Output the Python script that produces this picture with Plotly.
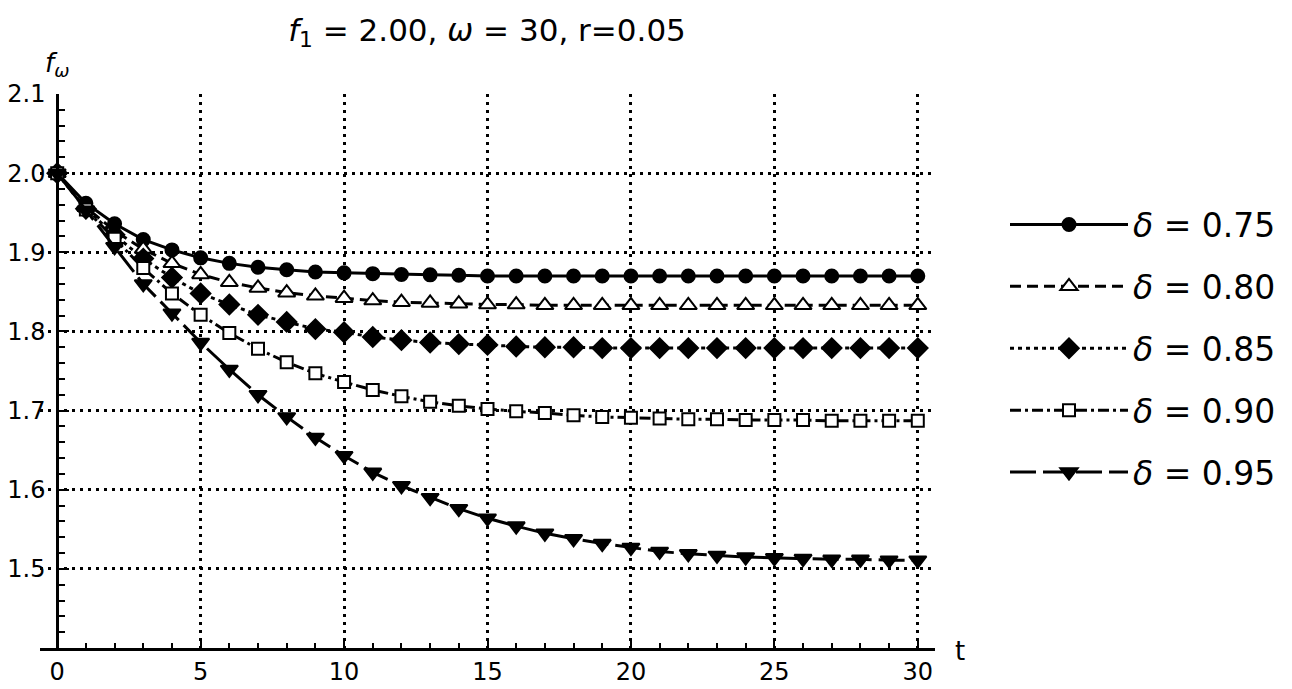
import plotly.graph_objects as go

t = list(range(31))

deltas = ["0.75", "0.80", "0.85", "0.90", "0.95"]

f_075 = [2.000, 1.962, 1.936, 1.916, 1.903, 1.893, 1.886, 1.881, 1.878, 1.875,
         1.874, 1.873, 1.872, 1.8715, 1.871, 1.870, 1.870, 1.870, 1.870, 1.870,
         1.870, 1.870, 1.870, 1.870, 1.870, 1.870, 1.870, 1.870, 1.870, 1.870, 1.870]
f_080 = [2.000, 1.957, 1.927, 1.904, 1.886, 1.872, 1.862, 1.855, 1.849, 1.845,
         1.842, 1.839, 1.837, 1.836, 1.835, 1.834, 1.834, 1.833, 1.833, 1.833,
         1.833, 1.833, 1.833, 1.833, 1.833, 1.833, 1.833, 1.833, 1.833, 1.833, 1.833]
f_085 = [2.000, 1.955, 1.922, 1.892, 1.868, 1.848, 1.834, 1.821, 1.812, 1.803,
         1.799, 1.793, 1.789, 1.786, 1.784, 1.783, 1.781, 1.780, 1.780, 1.779,
         1.779, 1.779, 1.779, 1.779, 1.779, 1.779, 1.779, 1.779, 1.779, 1.779, 1.779]
f_090 = [2.000, 1.954, 1.917, 1.880, 1.848, 1.821, 1.798, 1.778, 1.761, 1.747,
         1.736, 1.726, 1.718, 1.711, 1.706, 1.702, 1.699, 1.697, 1.694, 1.692,
         1.691, 1.690, 1.689, 1.689, 1.688, 1.688, 1.688, 1.687, 1.687, 1.687, 1.687]
f_095 = [2.000, 1.953, 1.907, 1.860, 1.823, 1.786, 1.752, 1.720, 1.692, 1.666,
         1.643, 1.622, 1.605, 1.590, 1.576, 1.564, 1.554, 1.545, 1.538, 1.532,
         1.527, 1.522, 1.519, 1.517, 1.515, 1.514, 1.513, 1.512, 1.512, 1.511, 1.511]

series = [f_075, f_080, f_085, f_090, f_095]

x_ticks = [0, 5, 10, 15, 20, 25, 30]
x_grid = [5, 10, 15, 20, 25, 30]
y_ticks = [1.5, 1.6, 1.7, 1.8, 1.9, 2.0, 2.1]
y_grid = [1.5, 1.6, 1.7, 1.8, 1.9, 2.0]

styles = [
    dict(dash="solid", symbol="circle", color="black", size=13),
    dict(dash="11px,6px", symbol="triangle-up", color="white", size=15),
    dict(dash="4px,4px", symbol="diamond", color="black", size=15),
    dict(dash="11px,4px,3px,4px", symbol="square", color="white", size=12),
    dict(dash="26px,7px", symbol="triangle-down", color="black", size=15),
]

FONT = "DejaVu Sans"
W, H = 1284, 681
L, R, T, B = 32, 357, 86, 41
PW = W - L - R
PH = H - T - B


def px_x(px):
    return (px - L) / PW


def px_y(py):
    return 1 - (py - T) / PH


fig = go.Figure()

for i, (d, ys, st) in enumerate(zip(deltas, series, styles)):
    fig.add_trace(go.Scatter(
        x=t, y=ys, mode="lines+markers",
        name=f"<i>δ</i> = {d}",
        legendgroup=f"g{i}",
        line=dict(color="black", width=3, dash=st["dash"]),
        marker=dict(symbol=st["symbol"], size=st["size"], color=st["color"],
                    line=dict(color="black", width=2)),
    ))

# invisible trace for grid axes
fig.add_trace(go.Scatter(x=[0], y=[2.0], xaxis="x2", yaxis="y2",
                         mode="markers", marker=dict(opacity=0),
                         showlegend=False, hoverinfo="skip"))

xr = [-0.6, 30.6]
yr = [1.4, 2.1]
ypos = (0 - xr[0]) / (xr[1] - xr[0])

fig.update_layout(
    width=W, height=H,
    margin=dict(l=L, r=R, t=T, b=B, autoexpand=False),
    paper_bgcolor="white", plot_bgcolor="white",
    font=dict(family=FONT, size=24, color="black"),
    title=dict(text="<i>f</i><sub>1</sub> = 2.00, <i>ω</i> = 30, r=0.05",
               x=479 / W, xanchor="center",
               y=1 - 22 / H, yanchor="middle",
               font=dict(family=FONT, size=31, color="black")),
    showlegend=True,
    legend=dict(x=px_x(997), y=px_y(188.5), xanchor="left", yanchor="top",
                font=dict(family=FONT, size=33, color="black"),
                itemwidth=118, tracegroupgap=16, bgcolor="rgba(0,0,0,0)"),
    xaxis=dict(range=xr, tickvals=x_ticks, ticktext=[str(v) for v in x_ticks],
               showgrid=False, zeroline=False, showline=True, linecolor="black",
               linewidth=3, ticks="inside", ticklen=10, tickwidth=2,
               tickcolor="black", tickfont=dict(family=FONT, size=24),
               automargin=False,
               minor=dict(dtick=1, ticks="inside", ticklen=5, tickwidth=2,
                          tickcolor="black", showgrid=False),
               anchor="y"),
    yaxis=dict(range=yr, tickvals=y_ticks, ticktext=["%.1f" % v for v in y_ticks],
               showgrid=False, zeroline=False, showline=True, linecolor="black",
               linewidth=3, ticks="inside", ticklen=10, tickwidth=2,
               tickcolor="black", tickfont=dict(family=FONT, size=24),
               ticklabelstandoff=6, automargin=False,
               minor=dict(dtick=0.02, tick0=1.4, ticks="inside", ticklen=6, tickwidth=2,
                          tickcolor="black", showgrid=False),
               anchor="free", position=ypos),
    xaxis2=dict(range=xr, overlaying="x", tickvals=x_grid, automargin=False,
                showticklabels=False, showgrid=True, griddash="3px,5px",
                gridcolor="black", gridwidth=2.5, zeroline=False, showline=False,
                ticks="", layer="below traces"),
    yaxis2=dict(range=yr, overlaying="y", tickvals=y_grid, automargin=False,
                showticklabels=False, showgrid=True, griddash="3px,5px",
                gridcolor="black", gridwidth=2.5, zeroline=False, showline=False,
                ticks="", layer="below traces"),
)

# axis labels
fig.add_annotation(text="<i>f</i><sub><i>ω</i></sub>", xref="paper", yref="paper",
                   x=px_x(49), y=px_y(57), xanchor="center", yanchor="middle",
                   showarrow=False, font=dict(family=FONT, size=26, color="black"))
fig.add_annotation(text="t", xref="paper", yref="paper",
                   x=px_x(952), y=px_y(643), xanchor="center", yanchor="middle",
                   showarrow=False, font=dict(family=FONT, size=26, color="black"))

fig.write_html("out.html")
